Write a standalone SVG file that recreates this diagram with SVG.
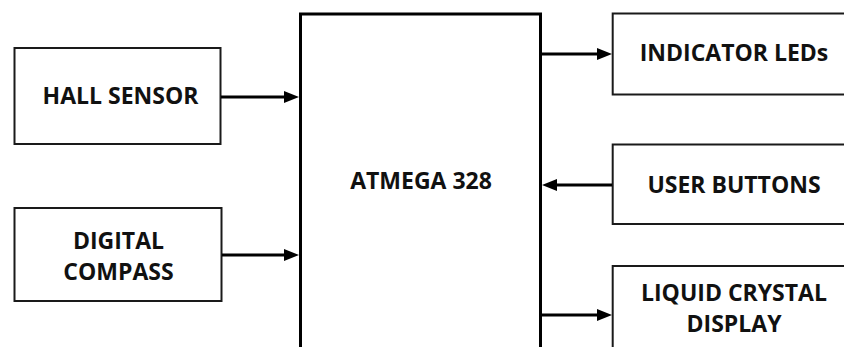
<svg xmlns="http://www.w3.org/2000/svg" width="844" height="347" viewBox="0 0 844 347">
  <style>
    .box { fill: #ffffff; stroke: #1a1a1a; stroke-width: 2; }
    .mcu { fill: #ffffff; stroke: #000000; stroke-width: 3; }
    .lbl { font-family: "Open Sans", "Liberation Sans", sans-serif; font-weight: 700; font-size: 23px; fill: #111111; text-anchor: middle; }
    .conn { stroke: #000000; stroke-width: 3; fill: none; marker-end: url(#arrow); }
  </style>
  <defs>
    <marker id="arrow" viewBox="0 0 15 12" refX="3" refY="6" markerWidth="15" markerHeight="12" markerUnits="userSpaceOnUse" orient="auto">
      <path d="M0,0 L15,6 L0,12 z" fill="#000000"/>
    </marker>
  </defs>
  <rect width="844" height="347" fill="#ffffff"/>

  <g id="atmega">
    <rect class="mcu" x="300.5" y="14" width="240" height="360"/>
    <text class="lbl" x="421" y="189">ATMEGA 328</text>
  </g>

  <g id="hall-sensor">
    <rect class="box" x="14.5" y="48" width="206" height="96"/>
    <text class="lbl" x="120.5" y="104">HALL SENSOR</text>
  </g>

  <g id="digital-compass">
    <rect class="box" x="14.5" y="208" width="207" height="93"/>
    <text class="lbl" x="118.5" y="248.5">DIGITAL</text>
    <text class="lbl" x="118.5" y="280">COMPASS</text>
  </g>

  <g id="indicator-leds">
    <rect class="box" x="612.7" y="13.5" width="260" height="81"/>
    <text class="lbl" x="734" y="61">INDICATOR LEDs</text>
  </g>

  <g id="user-buttons">
    <rect class="box" x="612.7" y="144.5" width="260" height="79.5"/>
    <text class="lbl" x="734" y="192.5">USER BUTTONS</text>
  </g>

  <g id="lcd">
    <rect class="box" x="612.7" y="266" width="260" height="120"/>
    <text class="lbl" x="734" y="300.5">LIQUID CRYSTAL</text>
    <text class="lbl" x="734" y="331.5">DISPLAY</text>
  </g>

  <g id="connectors">
    <line class="conn" x1="221" y1="97" x2="287" y2="97"/>
    <line class="conn" x1="222" y1="255" x2="287" y2="255"/>
    <line class="conn" x1="542" y1="54" x2="600" y2="54"/>
    <line class="conn" x1="612" y1="185" x2="554" y2="185"/>
    <line class="conn" x1="542" y1="315" x2="600" y2="315"/>
  </g>
</svg>
